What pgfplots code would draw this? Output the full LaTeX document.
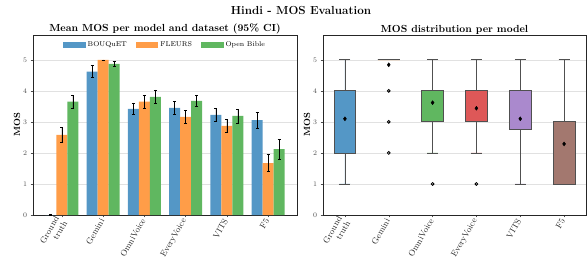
\documentclass[border=0pt]{standalone}
\usepackage{pgfplots}
\pgfplotsset{compat=1.18}
\usepgfplotslibrary{statistics}
\definecolor{cblue}{RGB}{84,151,198}
\definecolor{corange}{RGB}{255,157,72}
\definecolor{cgreen}{RGB}{96,183,96}
\definecolor{cred}{RGB}{222,88,88}
\definecolor{cpurple}{RGB}{170,137,205}
\definecolor{cbrown}{RGB}{163,120,111}
\definecolor{gridc}{RGB}{225,225,225}
\definecolor{edgec}{RGB}{80,80,80}
\pgfplotsset{
  common/.style={
    scale only axis, width=263bp, height=180bp,
    ymin=0, ymax=5.8, ytick={0,1,2,3,4,5},
    ymajorgrids, major grid style={gridc, line width=0.6pt},
    axis line style={black!85, line width=0.7pt},
    tick style={black!70, line width=0.5pt}, major tick length=2.5pt,
    tick align=outside, xtick pos=bottom, ytick pos=left,
    xtick={0,1,2,3,4,5},
    xticklabels={{Ground\\truth},Gemini,OmniVoice,EveryVoice,VITS,F5},
    xticklabel style={rotate=60, anchor=east, align=right, font=\fontsize{8.6}{9.5}\selectfont, inner sep=2pt, text=black!85},
    yticklabel style={font=\scriptsize, text=black!70},
    ylabel={\textbf{MOS}}, ylabel style={font=\small, yshift=-4pt},
    title style={font=\bfseries\fontsize{10.3}{12}\selectfont, yshift=-9pt},
  }
}
\begin{document}
\begin{tikzpicture}
\path[use as bounding box] (0,0) rectangle (588bp,269bp);
\node[font=\bfseries\fontsize{11.7}{14}\selectfont] at (301bp,258bp) {Hindi - MOS Evaluation};
\begin{axis}[common, at={(33bp,54bp)}, anchor=south west, width=264bp,
  xmin=-0.7, xmax=5.7,
  title={Mean MOS per model and dataset (95\% CI)},
  legend style={at={(0.5,0.985)}, anchor=north, legend columns=3, draw=none, fill=none, font=\scriptsize,
    /tikz/every even column/.append style={column sep=7pt}},
  legend image code/.code={\draw[#1, draw=none] (0cm,-1.0mm) rectangle (0.8cm,1.2mm);},
  error bars/error bar style={black, line width=0.7pt},
  error bars/error mark options={rotate=90, mark size=1.4pt, black, line width=0.6pt},
]
% BOUQuET (plotted at group position - 0.2667)
\addplot[ybar, bar width=0.2667, bar shift=0, fill=cblue, draw=none,
  error bars/.cd, y dir=both, y explicit]
  coordinates {(-0.2667,0.0) +- (0,0.02) (0.7333,4.62) +- (0,0.19) (1.7333,3.42) +- (0,0.19) (2.7333,3.45) +- (0,0.21) (3.7333,3.23) +- (0,0.20) (4.7333,3.06) +- (0,0.26)};
% FLEURS
\addplot[ybar, bar width=0.2667, bar shift=0, fill=corange, draw=none,
  error bars/.cd, y dir=both, y explicit]
  coordinates {(0,2.58) +- (0,0.23) (1,5.00) +- (0,0.0) (2,3.65) +- (0,0.22) (3,3.16) +- (0,0.21) (4,2.87) +- (0,0.21) (5,1.67) +- (0,0.27)};
% Open Bible (group position + 0.2667)
\addplot[ybar, bar width=0.2667, bar shift=0, fill=cgreen, draw=none,
  error bars/.cd, y dir=both, y explicit]
  coordinates {(0.2667,3.65) +- (0,0.22) (1.2667,4.87) +- (0,0.075) (2.2667,3.81) +- (0,0.22) (3.2667,3.68) +- (0,0.18) (4.2667,3.19) +- (0,0.22) (5.2667,2.12) +- (0,0.31)};
\legend{BOUQuET, FLEURS, Open Bible}
\end{axis}
\begin{axis}[common, at={(323bp,54bp)}, anchor=south west,
  xmin=-0.5, xmax=5.5,
  title={MOS distribution per model},
  boxplot/draw direction=y,
  boxplot/box extend=0.5, boxplot/whisker extend=0.25,
]
\pgfplotsset{bx/.style={boxplot prepared={#1}, draw=edgec, line width=0.8pt, solid,
  mark=o, mark size=1.4pt, mark options={black, line width=0.8pt}}}
\addplot[bx={lower whisker=1, lower quartile=2, median=4, upper quartile=4, upper whisker=5, draw position=0}, fill=cblue] coordinates {};
\addplot[bx={lower whisker=5, lower quartile=5, median=5, upper quartile=5, upper whisker=5, draw position=1}, fill=corange] coordinates {(1,4) (1,3) (1,2)};
\addplot[bx={lower whisker=2, lower quartile=3, median=4, upper quartile=4, upper whisker=5, draw position=2}, fill=cgreen] coordinates {(2,1)};
\addplot[bx={lower whisker=2, lower quartile=3, median=4, upper quartile=4, upper whisker=5, draw position=3}, fill=cred] coordinates {(3,1)};
\addplot[bx={lower whisker=1, lower quartile=2.75, median=4, upper quartile=4, upper whisker=5, draw position=4}, fill=cpurple] coordinates {};
\addplot[bx={lower whisker=1, lower quartile=1, median=3, upper quartile=3, upper whisker=5, draw position=5}, fill=cbrown] coordinates {};
\addplot[only marks, mark=diamond*, mark size=2pt, black] coordinates {(0,3.10) (1,4.84) (2,3.62) (3,3.44) (4,3.10) (5,2.29)};
\end{axis}
\end{tikzpicture}
\end{document}
